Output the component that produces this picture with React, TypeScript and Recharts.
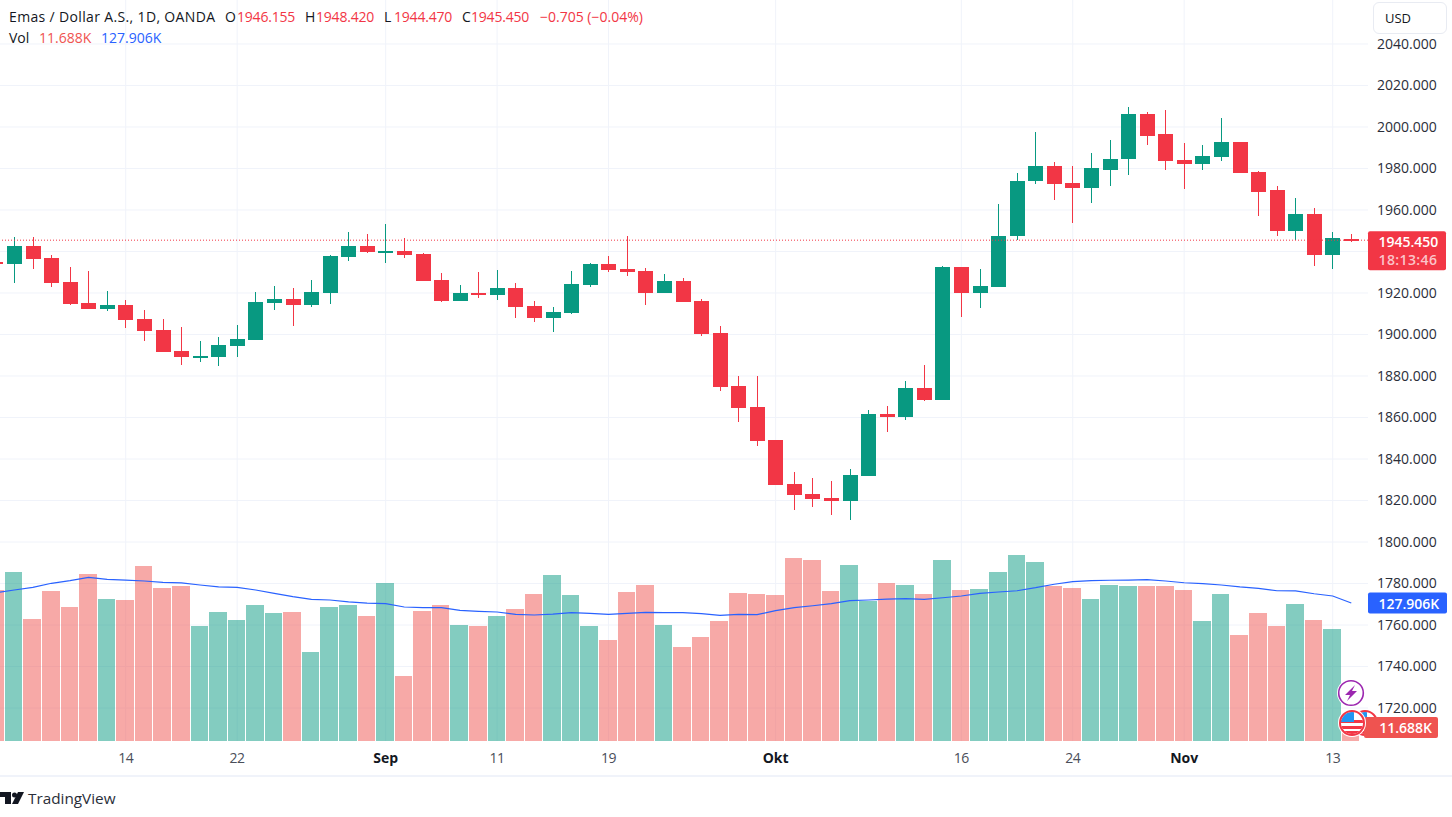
import { Bar, CartesianGrid, ComposedChart, Line, ReferenceLine, XAxis, YAxis } from "recharts";

const FONT = "'Open Sans', sans-serif";
const UP = "#089981";
const DOWN = "#f23645";
const VOL_UP = "rgba(8,153,129,0.5)";
const VOL_DOWN = "rgba(239,83,80,0.5)";
const BAR_STEP = 18.57; // pixels per trading day, keeps a 1px gap between volume bars

// one entry per trading day, the first one is cut off by the left edge
const opens = [
  1935.0, 1934.0, 1942.5, 1936.7, 1925.2, 1915.1, 1912.4, 1914.1, 1907.4, 1902.1, 1892.0, 1889.3, 1889.3, 1894.6, 1897.5,
  1915.2, 1917.0, 1914.3, 1920.1, 1937.4, 1942.5, 1939.8, 1940.1, 1938.6, 1926.1, 1916.2, 1919.9, 1919.0, 1922.3, 1913.7,
  1907.9, 1910.3, 1923.8, 1933.9, 1931.5, 1930.5, 1919.9, 1925.7, 1916.1, 1900.6, 1875.1, 1865.0, 1849.1, 1827.9, 1823.1,
  1821.1, 1819.7, 1831.7, 1861.6, 1860.2, 1874.1, 1868.2, 1932.3, 1919.8, 1922.7, 1947.3, 1973.8, 1981.0, 1972.8, 1970.4,
  1979.5, 1984.4, 2006.1, 1996.4, 1983.9, 1982.0, 1985.3, 1992.6, 1978.1, 1969.4, 1949.7, 1958.3, 1938.1, 1946.155,
];
const highs = [
  1936.0, 1946.8, 1946.8, 1938.2, 1932.4, 1930.5, 1920.9, 1916.5, 1911.7, 1907.4, 1903.5, 1896.8, 1898.7, 1904.5, 1920.4,
  1923.3, 1922.3, 1926.1, 1938.2, 1949.2, 1948.3, 1953.1, 1946.3, 1939.1, 1929.5, 1923.7, 1930.0, 1931.0, 1924.7, 1916.1,
  1913.2, 1930.5, 1934.4, 1937.8, 1947.4, 1932.0, 1929.1, 1927.1, 1917.0, 1904.0, 1879.9, 1879.9, 1849.1, 1833.7, 1830.8,
  1829.3, 1835.1, 1863.5, 1865.5, 1877.5, 1885.2, 1932.8, 1932.3, 1931.8, 1962.7, 1977.6, 1997.4, 1982.9, 1981.0, 1987.3,
  1993.5, 2009.4, 2007.0, 2008.0, 1992.1, 1991.1, 2004.1, 1993.0, 1978.6, 1971.4, 1965.6, 1960.8, 1949.2, 1948.42,
];
const lows = [
  1933.0, 1924.9, 1931.6, 1922.9, 1914.1, 1912.4, 1911.4, 1903.2, 1897.0, 1891.7, 1885.4, 1886.9, 1885.0, 1889.3, 1897.5,
  1911.9, 1904.2, 1913.3, 1914.8, 1935.4, 1939.3, 1934.5, 1936.9, 1925.8, 1915.7, 1916.2, 1917.5, 1916.5, 1907.9, 1905.9,
  1901.1, 1909.8, 1922.8, 1930.0, 1928.1, 1914.1, 1919.9, 1915.6, 1899.2, 1872.7, 1857.8, 1846.2, 1827.4, 1815.3, 1816.8,
  1812.9, 1810.5, 1831.7, 1853.0, 1858.7, 1867.9, 1868.2, 1908.2, 1912.6, 1922.7, 1945.3, 1972.3, 1964.6, 1953.5, 1963.2,
  1971.8, 1977.1, 1991.1, 1979.1, 1969.9, 1979.1, 1983.4, 1977.6, 1956.9, 1947.7, 1945.3, 1932.8, 1931.8, 1944.47,
];
const closes = [
  1934.0, 1942.5, 1936.4, 1924.9, 1914.8, 1912.4, 1914.1, 1907.1, 1901.8, 1891.7, 1889.3, 1889.6, 1894.9, 1897.8, 1915.6,
  1917.0, 1914.3, 1920.4, 1937.7, 1942.5, 1939.8, 1940.1, 1938.3, 1925.8, 1916.2, 1919.9, 1919.0, 1922.3, 1913.2, 1907.9,
  1910.8, 1924.3, 1933.9, 1931.0, 1930.0, 1919.9, 1925.7, 1915.6, 1900.2, 1874.6, 1864.5, 1848.6, 1827.4, 1822.6, 1820.6,
  1819.7, 1832.2, 1861.6, 1860.2, 1874.1, 1868.3, 1932.3, 1919.8, 1923.2, 1947.7, 1974.2, 1981.0, 1972.3, 1970.4, 1980.0,
  1984.8, 2006.1, 1995.9, 1983.4, 1982.0, 1985.8, 1992.6, 1977.6, 1968.9, 1949.7, 1958.3, 1938.1, 1946.3, 1945.45,
];
const volumes = [
  140.0, 156.7, 113.1, 139.1, 124.2, 154.8, 131.6, 130.7, 162.2, 141.8, 143.7, 106.6, 119.6, 112.2, 126.1, 118.7, 119.6, 82.5,
  124.2, 126.1, 115.9, 146.5, 60.3, 120.5, 126.1, 107.5, 106.6, 115.9, 122.4, 136.3, 153.9, 135.3, 106.6, 93.6, 138.1, 144.6,
  107.5, 87.1, 96.4, 111.2, 137.2, 136.3, 135.3, 169.6, 167.8, 139.1, 163.2, 129.8, 146.5, 144.6, 136.3, 167.8, 140.0, 140.9,
  156.7, 172.4, 165.9, 143.7, 141.8, 131.6, 144.6, 143.7, 143.7, 143.7, 140.0, 111.2, 136.3, 98.3, 118.7, 106.6, 127.0, 112.2,
  103.8, 11.688,
];
const volumeMa = [
  137.5, 140.0, 142.4, 146.2, 148.6, 151.7, 149.9, 149.2, 148.3, 147.1, 146.5, 144.6, 142.8, 142.4, 140.0, 136.9, 133.8, 131.3,
  130.7, 128.9, 127.9, 127.3, 124.2, 123.6, 123.6, 121.1, 120.2, 119.6, 117.4, 116.8, 117.7, 119.0, 118.3, 117.4, 118.3, 119.3,
  119.0, 119.0, 118.0, 116.5, 117.4, 117.1, 120.8, 123.6, 125.4, 127.3, 130.1, 130.7, 131.6, 131.9, 131.3, 132.8, 134.4, 136.9,
  138.1, 139.3, 142.1, 145.3, 147.7, 148.6, 149.0, 149.2, 149.5, 148.3, 146.7, 145.8, 144.6, 142.8, 141.5, 139.3, 139.1, 136.5,
  134.4, 127.906,
];

const priceTicks = [1720, 1740, 1760, 1780, 1800, 1820, 1840, 1860, 1880, 1900, 1920, 1940, 1960, 1980, 2000, 2020, 2040];
const coveredTick = 1940; // sits behind the last price chip
const timeTicks = [6, 12, 20, 26, 32, 41, 51, 57, 63, 71];
const timeLabels = ["14", "22", "Sep", "11", "19", "Okt", "16", "24", "Nov", "13"];
const boldLabels = ["Sep", "Okt", "Nov"];

const lastPrice = 1945.45;
const lastVolume = 11.688;
const lastMa = 127.906;

const rows = opens.map((open, i) => ({
  day: i - 1,
  open,
  high: highs[i],
  low: lows[i],
  close: closes[i],
  range: [lows[i], highs[i]],
  volume: volumes[i],
  ma: volumeMa[i],
}));

function Candle(props: any) {
  const { x, y, width, height, payload } = props;
  const perUnit = height / (payload.high - payload.low);
  const top = y + (payload.high - Math.max(payload.open, payload.close)) * perUnit;
  const body = Math.max(Math.abs(payload.open - payload.close) * perUnit, 2);
  const color = payload.close >= payload.open ? UP : DOWN;
  const mid = Math.floor(x + width / 2);
  return (
    <g shapeRendering="crispEdges">
      <rect x={mid} y={y} width={1} height={height} fill={color} />
      <rect x={mid - 7} y={top} width={15} height={body} fill={color} />
    </g>
  );
}

function VolumeBar(props: any) {
  const { x, y, height, payload } = props;
  const left = Math.floor(x - 0.7);
  const right = Math.floor(x - 0.7 + BAR_STEP) - 1;
  return (
    <rect
      x={left}
      y={y}
      width={right - left}
      height={height}
      fill={payload.close >= payload.open ? VOL_UP : VOL_DOWN}
      shapeRendering="crispEdges"
    />
  );
}

function TimeTick(props: any) {
  const { x, y, payload } = props;
  const label = timeLabels[timeTicks.indexOf(payload.value)];
  const bold = boldLabels.includes(label);
  return (
    <text x={x} y={y + 14} textAnchor="middle" fontFamily={FONT} fontSize={14} letterSpacing={bold ? 0 : -0.5} fontWeight={bold ? 700 : 400} fill={bold ? "#131722" : "#4a4e59"}>
      {label}
    </text>
  );
}

function Chip(props: any) {
  const { viewBox, w, h, above, fill, lines } = props;
  const top = viewBox.y - above;
  return (
    <g>
      <rect x={viewBox.x + viewBox.width} y={top} width={w} height={h} rx={2} fill={fill} />
      {lines.map((line: any, i: number) => (
        <text key={line.text} x={1378.5} y={top + 16 + i * 18} fontFamily={FONT} fontSize={14} fontWeight={600} letterSpacing={line.spacing ?? 0} fill={line.color}>
          {line.text}
        </text>
      ))}
    </g>
  );
}

function LegendText({ x, y, color, children, spacing }: any) {
  return (
    <span style={{ position: "absolute", left: x, top: y, color: color ?? "#131722", letterSpacing: spacing ?? 0, whiteSpace: "pre" }}>
      {children}
    </span>
  );
}

function Legend() {
  return (
    <div style={{ position: "absolute", left: 0, top: 0, fontFamily: FONT, fontSize: 14, lineHeight: "20px" }}>
      <LegendText x={9} y={7} spacing={0.35}>Emas / Dollar A.S., 1D, OANDA</LegendText>
      <LegendText x={225} y={7}>O</LegendText>
      <LegendText x={237} y={7} color={DOWN} spacing={-0.2}>1946.155</LegendText>
      <LegendText x={305} y={7}>H</LegendText>
      <LegendText x={316} y={7} color={DOWN} spacing={-0.2}>1948.420</LegendText>
      <LegendText x={384} y={7}>L</LegendText>
      <LegendText x={394} y={7} color={DOWN} spacing={-0.2}>1944.470</LegendText>
      <LegendText x={462} y={7}>C</LegendText>
      <LegendText x={471} y={7} color={DOWN} spacing={-0.2}>1945.450</LegendText>
      <LegendText x={540} y={7} color={DOWN}>−0.705 (−0.04%)</LegendText>
      <LegendText x={9} y={28}>Vol</LegendText>
      <LegendText x={39} y={28} color="#ef5350">11.688K</LegendText>
      <LegendText x={101} y={28} color="#2962ff">127.906K</LegendText>
    </div>
  );
}

function Flag({ cx, cy, id }: any) {
  return (
    <g>
      <clipPath id={id}>
        <circle cx={cx} cy={cy} r={11} />
      </clipPath>
      <circle cx={cx} cy={cy} r={14} fill="#fff" />
      <g clipPath={`url(#${id})`}>
        <rect x={cx - 11} y={cy - 11} width={22} height={22} fill="#fff" />
        <rect x={cx - 11} y={cy - 3} width={22} height={3} fill="#f23645" />
        <rect x={cx - 11} y={cy + 3} width={22} height={3} fill="#f23645" />
        <rect x={cx - 11} y={cy + 8} width={22} height={3} fill="#f23645" />
        <rect x={cx - 11} y={cy - 11} width={13} height={10} fill="#2196f3" />
      </g>
      <circle cx={cx} cy={cy} r={12} fill="none" stroke="#f23645" strokeWidth={2} />
    </g>
  );
}

function BackBadge() {
  return (
    <svg width={40} height={40} style={{ position: "absolute", left: 1345, top: 703 }}>
      <Flag cx={20} cy={20} id="flag-back" />
    </svg>
  );
}

function FrontBadges() {
  return (
    <svg width={40} height={70} style={{ position: "absolute", left: 1332, top: 675 }}>
      <circle cx={19} cy={18} r={14} fill="#fff" />
      <circle cx={19} cy={18} r={12.3} fill="#fff" stroke="#9c27b0" strokeWidth={1.6} />
      <path d="M23 10 L13 20 L18 20 L15 26 L25 16 L20 16 Z" fill="#9c27b0" />
      <Flag cx={20} cy={48} id="flag-front" />
    </svg>
  );
}

export default function App() {
  return (
    <div style={{ position: "absolute", left: 0, top: 0, width: 1452, height: 817, background: "#fff", overflow: "hidden" }}>
      <ComposedChart width={1452} height={775} data={rows} margin={{ top: 0, right: 0, bottom: 0, left: 0 }}>
        <CartesianGrid xAxisId="price" yAxisId="price" stroke="#f0f3fa" syncWithTicks />
        <XAxis
          xAxisId="price"
          type="number"
          dataKey="day"
          domain={[-0.77, 72.9]}
          allowDataOverflow
          ticks={timeTicks}
          tick={<TimeTick />}
          height={34}
          axisLine={false}
          tickLine={false}
        />
        <XAxis xAxisId="vol" type="number" dataKey="day" domain={[-0.77, 72.9]} allowDataOverflow hide />
        <YAxis
          yAxisId="price"
          orientation="right"
          domain={[1704.1, 2061.2]}
          allowDataOverflow
          ticks={priceTicks}
          width={84}
          axisLine={false}
          tickLine={false}
          tickMargin={3}
          tick={{ fontFamily: FONT, fontSize: 14, fill: "#2a2e39" }}
          tickFormatter={(v: number) => (v === coveredTick ? "" : v.toFixed(3))}
        />
        <YAxis yAxisId="vol" orientation="left" domain={[0, 686.9]} allowDataOverflow hide />
        <Bar xAxisId="vol" yAxisId="vol" dataKey="volume" barSize={17} shape={<VolumeBar />} isAnimationActive={false} />
        <Line xAxisId="vol" yAxisId="vol" dataKey="ma" stroke="#2962ff" strokeWidth={1.2} dot={false} activeDot={false} isAnimationActive={false} />
        <ReferenceLine xAxisId="price" yAxisId="price" y={lastPrice} stroke={DOWN} strokeDasharray="1 2" />
        <Bar xAxisId="price" yAxisId="price" dataKey="range" barSize={15} shape={<Candle />} isAnimationActive={false} />
        <ReferenceLine
          xAxisId="price"
          yAxisId="price"
          y={lastPrice}
          stroke="none"
          label={
            <Chip
              w={78}
              h={39}
              above={9}
              fill={DOWN}
              lines={[
                { text: lastPrice.toFixed(3), color: "#fff" },
                { text: "18:13:46", color: "#fbc4c9", spacing: 0.4 },
              ]}
            />
          }
        />
        <ReferenceLine
          xAxisId="vol"
          yAxisId="vol"
          y={lastMa}
          stroke="none"
          label={<Chip w={79} h={21} above={10.5} fill="#2962ff" lines={[{ text: "127.906K", color: "#fff" }]} />}
        />
      </ComposedChart>
      <BackBadge />
      <div style={{ position: "absolute", left: 1364, top: 717, width: 68, paddingRight: 6, height: 21, borderRadius: 2, background: "#ef5350", color: "#fff", fontFamily: FONT, fontSize: 14, fontWeight: 600, lineHeight: "21px", textAlign: "right" }}>
        {lastVolume.toFixed(3)}K
      </div>
      <FrontBadges />
      <div style={{ position: "absolute", left: 0, top: 775, width: 1452, height: 2, background: "#f0f3fa" }} />
      <div style={{ position: "absolute", left: 1373, top: 2, width: 72, height: 30, border: "1px solid #e8ebf2", borderRadius: 6, fontFamily: FONT, fontSize: 13, color: "#131722", lineHeight: "30px", textIndent: 11, background: "#fff" }}>
        USD
      </div>
      <Legend />
      <svg width={24} height={16} style={{ position: "absolute", left: 0, top: 790 }}>
        <path d="M0 2 H11 V14 H5 V7 H0 Z" fill="#131722" />
        <circle cx={14.5} cy={5} r={2.5} fill="#131722" />
        <path d="M18 2 H24 L18 14 H12 Z" fill="#131722" />
      </svg>
      <div style={{ position: "absolute", left: 28, top: 788, fontFamily: FONT, fontSize: 15.3, color: "#2a2e39" }}>TradingView</div>
    </div>
  );
}
